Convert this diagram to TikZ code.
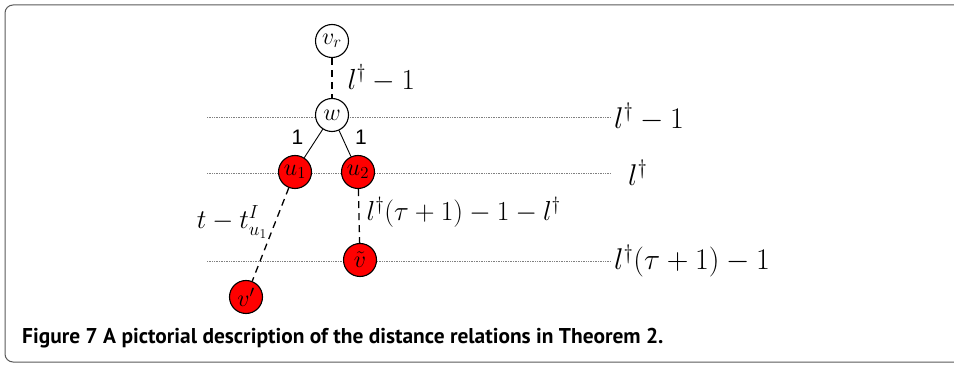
\RequirePackage{fix-cm}
\documentclass[tikz,border=0pt]{standalone}
\usepackage{fontspec}
\usetikzlibrary{positioning}
\newfontfamily\capfont{PT Sans}
\newfontfamily\onefont{Liberation Sans}
\begin{document}
\begin{tikzpicture}[x=1pt,y=-1pt,
  vert/.style={circle,draw,line width=1.1pt,minimum size=33pt,inner sep=0pt,font=\fontsize{24}{26}\selectfont},
  redvert/.style={vert,fill=red},
  level/.style={gray,densely dotted,line width=0.7pt},
  dist/.style={line width=1.3pt,dash pattern=on 7pt off 5pt},
  lbl/.style={font=\fontsize{30}{34}\selectfont,inner sep=0pt},
  one/.style={font=\onefont\fontsize{21}{24}\selectfont,inner sep=0pt}]
  \useasboundingbox (0,0) rectangle (954,366);
  \draw[black!65,line width=1pt,rounded corners=8pt] (954,5) -- (5,5) -- (5,362) -- (954,362);
  % levels
  \foreach \y/\txt/\dx in {117/{l^\dagger-1}/614, 173/{l^\dagger}/628, 261/{l^\dagger(\tau+1)-1}/614} {
     \draw[level] (207,\y) -- (611,\y);
     \node[lbl,anchor=west] at (\dx,\y) {$\txt$};
  }
  \node[vert] (vr) at (332,41) {$v_r$};
  \node[vert,fill=white] (w) at (332,115) {$w$};
  \node[redvert] (u1) at (295,172) {$u_1$};
  \node[redvert] (u2) at (358,172) {$u_2$};
  \node[redvert] (vt) at (360,260) {$\tilde{v}$};
  \node[redvert] (vp) at (246,297) {$v'$};
  \draw[dist] (vr) -- (w) node[lbl,midway,right=15pt,font=\fontsize{29}{32}\selectfont] {$l^\dagger-1$};
  \draw[line width=0.9pt] (w) -- (u1) node[one,midway,xshift=-16pt,yshift=6pt] {1};
  \draw[line width=0.9pt] (w) -- (u2) node[one,midway,xshift=16pt,yshift=6pt] {1};
  \draw[dist] (u2) -- (vt) node[lbl,midway,right=7pt,yshift=4pt,font=\fontsize{27.5}{30}\selectfont] {$l^\dagger(\tau+1)-1-l^\dagger$};
  \draw[dist] (u1) -- (vp);
  \node[lbl,font=\fontsize{27}{30}\selectfont] (tlab) at (232,222) {$t-t^{I}_{u_1}$};
  % caption
  \node[anchor=west,inner sep=0pt] (cap) at (22,338)
    {\capfont\bfseries\fontsize{21.4}{24}\selectfont Figure 7 A pictorial description of the distance relations in Theorem 2.};
\end{tikzpicture}
\end{document}
